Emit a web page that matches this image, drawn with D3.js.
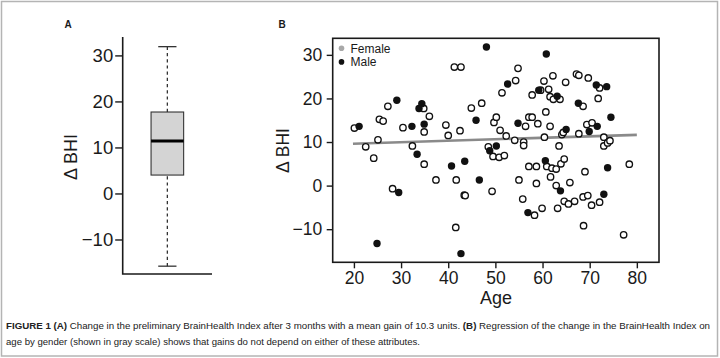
<!DOCTYPE html>
<html>
<head>
<meta charset="utf-8">
<script src="https://cdn.jsdelivr.net/npm/d3@7/dist/d3.min.js"></script>
<style>
  html, body { margin: 0; padding: 0; background: #fff; }
  svg { display: block; font-family: "Liberation Sans", Arial, Helvetica, sans-serif; }
</style>
</head>
<body>
<svg id="chart" width="720" height="358"></svg>
<script>
// ---------- DATA ----------
// Panel A: boxplot five-number summary of change in BHI
const boxLabels = ["min", "q1", "median", "q3", "max"];
const boxValues = [-15.8, 4.0, 11.4, 17.7, 31.9];

// Panel B: ages and BHI change, by gender
const femaleAge = [20.1,22.5,24.2,25.1,25.4,26.2,27.2,28.2,30.4,32.4,34.8,34.9,34.9,36.0,37.4,39.5,40.0,41.3,41.6,41.7,
  42.5,42.7,43.4,43.6,44.9,47.1,48.5,49.3,49.5,49.7,50.2,50.8,51.0,51.4,51.9,52.3,54.1,54.3,54.8,55.0,
  55.8,56.0,56.0,56.4,57.1,57.8,57.1,57.8,58.3,58.7,58.7,59.0,59.6,59.9,60.3,60.4,60.7,60.9,61.3,61.6,
  61.6,61.7,62.0,62.2,62.3,62.9,62.9,63.2,63.5,63.7,63.9,64.1,64.4,64.6,64.6,64.9,65.5,65.8,66.8,67.2,
  67.7,67.7,68.6,68.6,68.7,69.0,69.4,69.6,69.7,70.4,70.5,71.8,72.1,72.1,73.0,73.0,73.8,74.3,77.2,78.4];
const femaleBHI = [13.2,8.9,6.3,10.5,15.2,14.8,18.2,-0.7,13.3,9.1,17.7,12.3,4.9,15.9,1.3,13.9,11.5,27.2,-9.6,1.3,
  12.6,27.2,-2.2,-2.3,17.8,18.9,8.9,-1.3,6.7,14.5,15.7,6.5,12.7,21.3,6.9,11.4,10.4,24.1,26.9,1.3,
  -3.1,10.0,9.2,13.6,15.7,15.7,4.4,20.8,-6.8,4.4,0.5,14.2,21.9,-5.2,24.0,11.1,16.9,4.4,22.1,20.4,
  13.6,2.0,4.0,25.2,19.8,3.8,0.0,-5.2,9.1,19.8,5.0,11.7,12.2,6.1,-3.6,23.7,-4.2,0.7,-3.6,25.6,
  25.3,11.9,18.2,-2.6,-9.2,3.2,14.0,-2.3,24.7,-4.5,14.4,20.0,22.4,-3.8,11.1,9.1,9.8,10.3,-11.3,4.9];
const maleAge = [21.1,24.9,29.1,29.5,32.3,33.4,33.8,34.4,34.9,40.7,42.7,43.5,45.9,46.6,48.1,48.8,50.2,52.6,54.8,56.9,
  59.2,60.6,60.8,63.1,63.8,65.0,67.6,69.9,71.4,71.6,73.0,73.6,73.8,74.5];
const maleBHI = [13.6,-13.3,19.6,-1.6,13.6,7.2,17.7,18.8,14.1,4.5,-15.6,5.6,15.0,1.3,31.8,8.0,9.1,23.3,14.3,-6.2,
  21.9,5.7,30.2,20.5,-1.2,12.9,18.9,12.4,23.1,13.6,-2.0,22.7,4.1,15.7];

// Regression line end points (age, BHI)
const regAge = [19.8, 80.0];
const regBHI = [9.6, 11.65];

// Tick values
const yTicks = [-10, 0, 10, 20, 30];
const xTicks = [20, 30, 40, 50, 60, 70, 80];

const legendLabels = ["Female", "Male"];

const captionLine1 = [
  ["FIGURE 1 ", true], ["(A)", true],
  [" Change in the preliminary BrainHealth Index after 3 months with a mean gain of 10.3 units. ", false],
  ["(B)", true], [" Regression of the change in the BrainHealth Index on", false]
];
const captionLine2 = "age by gender (shown in gray scale) shows that gains do not depend on either of these attributes.";

// ---------- DRAW ----------
const svg = d3.select("#chart");
const ink = "#1a1a1a";

// outer figure border
svg.append("rect").attr("x", 1.5).attr("y", 1.5).attr("width", 716).attr("height", 354.5)
  .attr("fill", "none").attr("stroke", "#b4b4b4").attr("stroke-width", 1.5);

// ===== Panel A =====
const yA = d3.scaleLinear().domain([-17.5, 34]).range([274, 37]);
const xA = d3.scaleBand().domain(["BHI"]).range([122.7, 212]).paddingOuter(0.87).paddingInner(0);
const gA = svg.append("g");

// L-shaped frame
gA.append("path")
  .attr("d", `M${xA.range()[0]},${yA.range()[1]}V${yA.range()[0]}H${xA.range()[1]}`)
  .attr("fill", "none").attr("stroke", ink).attr("stroke-width", 1.6);

const axA = gA.append("g").attr("transform", `translate(${xA.range()[0]},0)`)
  .call(d3.axisLeft(yA).tickValues(yTicks).tickSize(7.5).tickPadding(2));
axA.select(".domain").remove();
axA.selectAll(".tick line").attr("stroke", ink).attr("stroke-width", 1.4);
axA.selectAll(".tick text").attr("font-size", 18.5).attr("fill", ink)
  .attr("font-family", "Liberation Sans, Arial, sans-serif");

const st = Object.fromEntries(boxLabels.map((k, i) => [k, boxValues[i]]));
const bx0 = xA("BHI"), bw = xA.bandwidth(), bcx = bx0 + bw / 2, cap = bw * 0.28;
// whiskers
[[st.q3, st.max], [st.min, st.q1]].forEach(([a, b]) => {
  gA.append("line").attr("x1", bcx).attr("x2", bcx).attr("y1", yA(a)).attr("y2", yA(b))
    .attr("stroke", "#333").attr("stroke-width", 1.3).attr("stroke-dasharray", "3.2,3");
});
[st.min, st.max].forEach(v => {
  gA.append("line").attr("x1", bcx - cap).attr("x2", bcx + cap).attr("y1", yA(v)).attr("y2", yA(v))
    .attr("stroke", "#333").attr("stroke-width", 1.3);
});
gA.append("rect").attr("x", bx0).attr("width", bw)
  .attr("y", yA(st.q3)).attr("height", yA(st.q1) - yA(st.q3))
  .attr("fill", "#d4d4d4").attr("stroke", "#333").attr("stroke-width", 1.1);
gA.append("line").attr("x1", bx0).attr("x2", bx0 + bw).attr("y1", yA(st.median)).attr("y2", yA(st.median))
  .attr("stroke", "#000").attr("stroke-width", 3.2);

gA.append("text").attr("transform", "translate(76.5,157) rotate(-90)").attr("text-anchor", "middle")
  .attr("font-size", 18).attr("fill", ink).text("Δ BHI");
gA.append("text").attr("x", 68).attr("y", 28).attr("text-anchor", "middle")
  .attr("font-size", 10).attr("font-weight", "bold").attr("fill", ink).text("A");

// ===== Panel B =====
const xB = d3.scaleLinear().domain([15.5, 84.7]).range([332.7, 659]);
const yB = d3.scaleLinear().domain([-17.6, 33.8]).range([262.3, 38.3]);
const gB = svg.append("g");

const axY = gB.append("g").attr("transform", `translate(${xB.range()[0]},0)`)
  .call(d3.axisLeft(yB).tickValues(yTicks).tickSize(6).tickPadding(4.5));
const axX = gB.append("g").attr("transform", `translate(0,${yB.range()[0]})`)
  .call(d3.axisBottom(xB).tickValues(xTicks).tickSize(6).tickPadding(3.5));
[axY, axX].forEach(ax => {
  ax.select(".domain").remove();
  ax.selectAll(".tick line").attr("stroke", ink).attr("stroke-width", 1.4);
  ax.selectAll(".tick text").attr("font-size", 17.5).attr("fill", ink)
    .attr("font-family", "Liberation Sans, Arial, sans-serif");
});

// frame
gB.append("rect").attr("x", xB.range()[0]).attr("y", yB.range()[1])
  .attr("width", xB.range()[1] - xB.range()[0]).attr("height", yB.range()[0] - yB.range()[1])
  .attr("fill", "none").attr("stroke", ink).attr("stroke-width", 1.6);

// regression line
gB.append("line").attr("x1", xB(regAge[0])).attr("x2", xB(regAge[1]))
  .attr("y1", yB(regBHI[0])).attr("y2", yB(regBHI[1]))
  .attr("stroke", "#8a8a8a").attr("stroke-width", 2.6);

// points
const females = femaleAge.map((a, i) => ({ age: a, v: femaleBHI[i] }));
const males = maleAge.map((a, i) => ({ age: a, v: maleBHI[i] }));
gB.append("g").selectAll("circle").data(females).join("circle")
  .attr("cx", d => xB(d.age)).attr("cy", d => yB(d.v)).attr("r", 3.2)
  .attr("fill", "#fff").attr("stroke", "#111").attr("stroke-width", 1.35);
gB.append("g").selectAll("circle").data(males).join("circle")
  .attr("cx", d => xB(d.age)).attr("cy", d => yB(d.v)).attr("r", 3.7)
  .attr("fill", "#111").attr("stroke", "none");

// legend
const legColors = ["#a8a8a8", "#111"];
legendLabels.forEach((lab, i) => {
  const cy = 48.3 + i * 13.6;
  gB.append("circle").attr("cx", 341.5).attr("cy", cy).attr("r", 2.8).attr("fill", legColors[i]);
  gB.append("text").attr("x", 350.5).attr("y", cy + 4.3).attr("font-size", 12).attr("fill", ink).text(lab);
});

gB.append("text").attr("transform", "translate(288.5,150.5) rotate(-90)").attr("text-anchor", "middle")
  .attr("font-size", 17.5).attr("fill", ink).text("Δ BHI");
gB.append("text").attr("x", 496).attr("y", 304).attr("text-anchor", "middle")
  .attr("font-size", 18).attr("fill", ink).text("Age");
gB.append("text").attr("x", 282).attr("y", 28).attr("text-anchor", "middle")
  .attr("font-size", 10).attr("font-weight", "bold").attr("fill", ink).text("B");

// ===== Caption =====
const cap1 = svg.append("text").attr("x", 6).attr("y", 329).attr("font-size", 9).attr("fill", "#222")
  .attr("textLength", 704).attr("lengthAdjust", "spacingAndGlyphs");
captionLine1.forEach(([t, b]) => cap1.append("tspan").attr("font-weight", b ? "bold" : "normal").text(t));
svg.append("text").attr("x", 6).attr("y", 344.5).attr("font-size", 9).attr("fill", "#222")
  .attr("textLength", 414).attr("lengthAdjust", "spacingAndGlyphs").text(captionLine2);
</script>
</body>
</html>
